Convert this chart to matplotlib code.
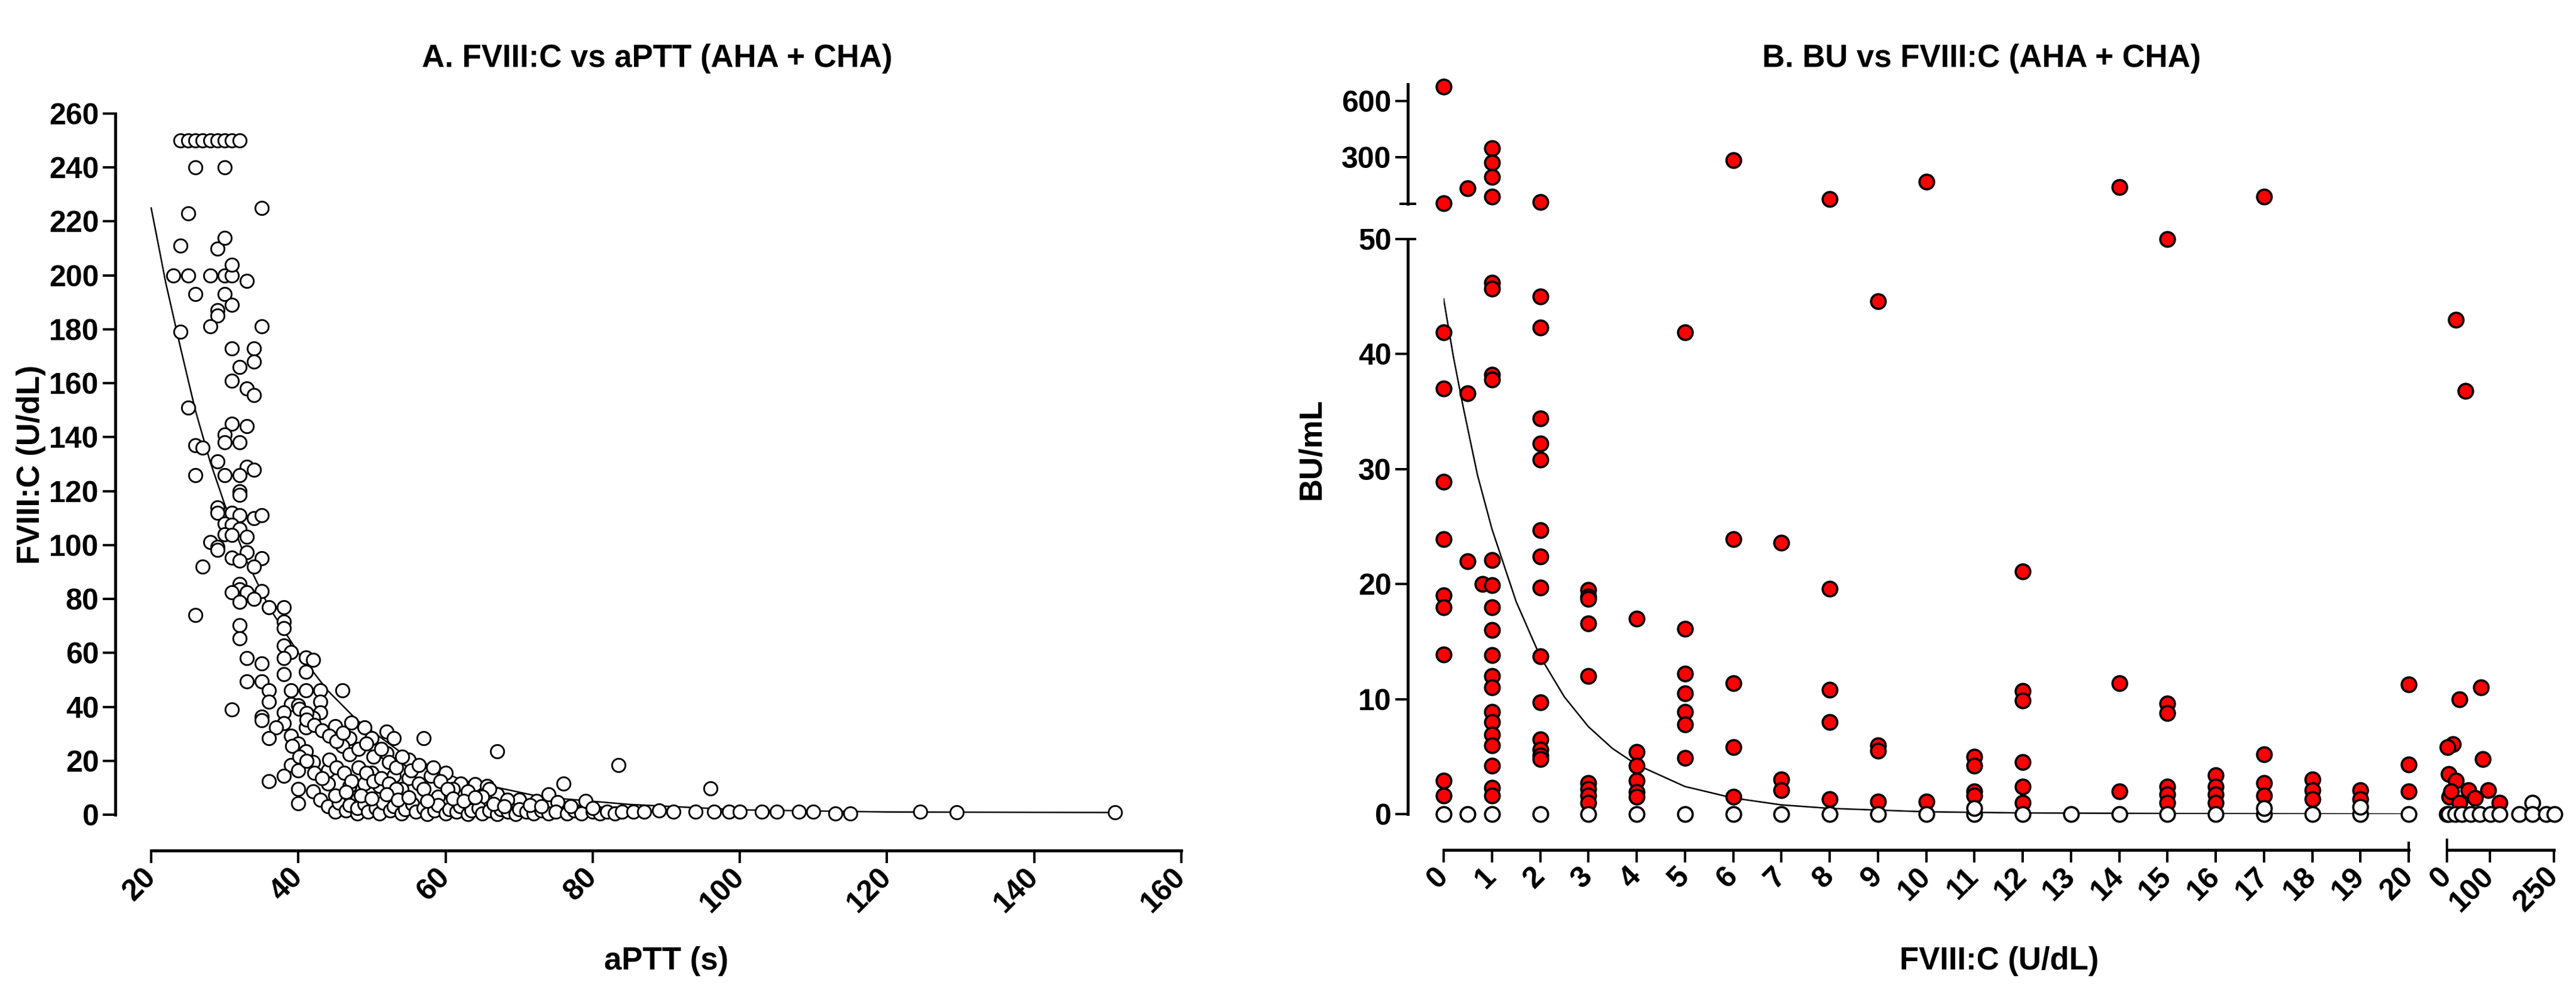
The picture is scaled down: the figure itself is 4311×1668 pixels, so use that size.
import matplotlib
matplotlib.use("Agg")
import matplotlib.pyplot as plt
from matplotlib.ticker import FixedLocator, NullFormatter

plt.rcParams['font.family'] = ['Liberation Sans', 'DejaVu Sans']
plt.rcParams['font.weight'] = 'bold'

# ---------------- Panel A : FVIII:C vs aPTT ----------------
# (aPTT s, FVIII:C U/dL)
pts_a_top = [(24, 250), (25, 250), (26, 250), (27, 250), (28, 250), (29, 250), (30, 250), (31, 250), (32, 250),
             (26, 240), (30, 240), (25, 223), (35, 225), (24, 211), (29, 210), (30, 214),
             (23, 200), (25, 200), (28, 200), (30, 200), (31, 200), (33, 198), (31, 204),
             (26, 193), (30, 193), (29, 187), (29, 185), (31, 189), (24, 179), (28, 181), (35, 181),
             (31, 173), (34, 173), (32, 166), (34, 168), (31, 161), (33, 158), (34, 155.5), (25, 151),
             (31, 145), (33, 144), (30, 141)]
pts_a_mid = [(32, 138), (30, 138), (26, 137), (27, 136), (29, 131), (33, 129), (34, 128), (26, 126), (30, 126),
             (32, 126), (32, 120), (32, 118.5), (29, 114), (29, 112), (31, 112), (32, 111), (34, 110), (35, 111),
             (30, 108), (31, 107.6), (32, 106), (30, 104), (31, 103.7), (33, 103), (28, 101), (29, 99.3),
             (29, 98.3), (33, 97.3), (31, 95.3), (32, 94.3), (35, 95), (34, 92), (27, 92), (32, 85.5), (32, 83.5),
             (31, 82.5), (33, 82.5), (35, 83), (32, 79), (34, 80), (26, 74), (36, 77), (38, 77), (38, 71.7),
             (38, 69.2), (32, 70.2), (32, 65.3), (38, 62.8), (39, 60.3), (33, 58), (35, 56), (41, 58.4),
             (42, 57.4), (38, 58), (41, 53), (38, 52), (33, 49.5), (35, 49.5), (36, 46), (39, 46), (41, 46),
             (43, 46), (46, 46), (36, 42), (39, 41), (43, 42), (40, 40.6)]
pts_a_low = [(31, 39), (43, 38), (38, 37.8), (35, 36.3), (35, 35), (38, 34), (42, 36), (45, 32.7), (37, 32.3),
             (41, 32.3), (49, 32.3), (52, 30.8), (53, 28.3), (57, 28.3), (50, 28.3), (47, 28.3), (36, 28.3),
             (39, 29.3), (46, 25.4), (40, 26.3), (41, 23.4), (47, 22.4), (52, 22.9), (55, 20.4), (39, 18.4),
             (40, 16.5), (42, 19.4), (44, 16.5), (50, 15.5), (53, 14.5), (55, 13.5), (58, 14.5), (60, 15.5),
             (64, 11.4), (67, 23.4), (36, 12.5), (38, 14.5), (44, 11.5), (47, 10.6), (49, 11.5), (51, 10.6),
             (76, 11.5), (83.5, 18.4), (40.1, 39.2), (41.1, 37.7), (41.1, 35.2), (42.2, 33.2), (43.2, 31.3),
             (44.2, 29.3), (45.2, 27.3), (46.1, 30.3), (47.2, 34.2), (48.2, 24.4), (49.2, 26.3), (50.2, 21.4),
             (51.3, 24.4), (52.3, 19.4), (53.3, 17.5), (54.1, 21.4), (55.3, 16.5), (56.4, 18.5), (58.3, 17.5),
             (59.3, 12.5), (39.2, 25.4), (40.1, 21.4), (41.1, 19.9), (42.2, 15.5), (43.2, 13.5), (44.2, 20.4),
             (45.2, 17.5), (46.2, 15.5), (47.2, 12.5), (48.2, 17.5), (49.2, 15.5), (50.2, 12.5), (51.3, 13.5),
             (52.3, 11.6), (56.4, 11.6), (62.1, 11.6), (65.6, 10.6)]
pts_a_floor = [(57, 9.6), (61, 9.6), (67, 7.6), (74, 7.6), (40, 9.6), (42, 8.6), (54, 9.6), (63, 8.6), (66, 9.6),
               (70, 5.6), (79, 5.2), (40, 4.2), (43, 5.6), (46, 6.6), (48, 5.6), (59, 6.6), (53.3, 9.6),
               (60.3, 9.6), (65, 6.6), (68.4, 5.6), (72.4, 5.2), (75.2, 4.7),
               (44, 3), (45, 1), (45.5, 4.5), (46.5, 1.5), (47, 3.5), (48, 0.5), (48, 2.5), (49, 4), (49.5, 1),
               (50.5, 2.5), (51, 0.5), (51.5, 4.5), (52.5, 1.5), (53, 3), (54, 0.5), (54.5, 2), (55.5, 4),
               (56, 1), (57, 2.5), (57.5, 0.3), (58.5, 1.5), (59, 3.5), (60, 0.5), (60.5, 2), (61.5, 1), (62, 3),
               (63, 0.3), (63.5, 1.5), (64.5, 2.5), (65, 0.5), (66, 1.5), (67, 0.3), (67.5, 2), (68.5, 1),
               (69.5, 0.3), (70, 2), (71, 1), (72, 0.5), (73, 1.5), (74, 0.5), (75, 1), (76.5, 0.5), (77.5, 1.5),
               (78.5, 0.5), (80, 1), (81, 0.5), (82, 1), (83, 0.5),
               (45, 7), (46.5, 8.5), (48.5, 7), (50, 6), (52, 7.5), (53.5, 5.5), (55, 6.5), (57.5, 5), (61, 6),
               (62.5, 5), (64, 6.5), (66.5, 4), (68, 3), (71.5, 3.5), (73, 3), (77, 3), (80, 2.5)]
pts_a_tail = [(84, 1), (85.5, 1), (87, 1), (89, 1.5), (91, 1), (94, 1), (96, 9.8), (96.5, 1), (98.5, 1),
              (100, 1), (103, 1), (105, 1), (108, 1), (110, 1), (113, 0.5), (115, 0.5), (124.5, 1),
              (129.5, 0.8), (151, 0.8)]

# fitted decay curve, read as points along the line
fit_a_x = [20, 22, 24, 26, 28, 30, 33, 36, 40, 44, 48, 54, 62, 73, 85, 100, 120, 151]
fit_a_y = [225, 197, 173, 150, 131, 115, 94, 77, 60, 46, 35, 23, 13, 6.6, 3.8, 1.8, 1.0, 0.8]

# ---------------- Panel B : BU vs FVIII:C ----------------
# red = inhibitor positive (FVIII:C U/dL, BU/mL), values > 50 go on the upper segment
red_b = [(0, 677), (0, 54), (0, 41.9), (0, 37.0), (0, 28.9), (0, 23.9), (0, 19.0), (0, 18.0), (0, 13.9),
         (0, 2.9), (0, 1.6),
         (0.5, 134), (0.5, 36.6), (0.5, 22.0), (0.8, 20.0),
         (1, 348), (1, 271), (1, 195), (1, 89), (1, 46.2), (1, 45.7), (1, 38.2), (1, 37.8), (1, 22.1),
         (1, 19.9), (1, 18.0), (1, 16.0), (1, 13.8), (1, 12.0), (1, 11.0), (1, 8.9), (1, 8.0), (1, 6.9),
         (1, 6.0), (1, 4.2), (1, 2.3), (1, 1.6),
         (2, 60), (2, 45.0), (2, 42.3), (2, 34.4), (2, 32.2), (2, 30.8), (2, 24.7), (2, 22.4), (2, 19.7),
         (2, 13.7), (2, 9.7), (2, 6.5), (2, 5.6), (2, 5.1), (2, 4.8),
         (3, 19.5), (3, 18.9), (3, 18.7), (3, 16.6), (3, 12.0), (3, 2.7), (3, 2.2), (3, 1.6), (3, 1.0),
         (4, 17.0), (4, 5.4), (4, 4.2), (4, 2.9), (4, 1.9), (4, 1.5),
         (5, 41.9), (5, 16.1), (5, 12.2), (5, 10.5), (5, 8.9), (5, 7.8), (5, 4.9),
         (6, 284), (6, 23.9), (6, 11.4), (6, 5.8), (6, 1.5),
         (7, 23.6), (7, 3.0), (7, 2.1),
         (8, 77), (8, 19.6), (8, 10.8), (8, 8.0), (8, 1.3),
         (9, 44.6), (9, 6.0), (9, 5.5), (9, 1.1),
         (10, 170), (10, 1.1),
         (11, 5.0), (11, 4.2), (11, 2.0), (11, 1.6),
         (12, 21.1), (12, 10.7), (12, 9.9), (12, 4.5), (12, 2.4), (12, 1.0),
         (14, 140), (14, 11.4), (14, 2.0),
         (15, 50), (15, 9.6), (15, 8.8), (15, 2.4), (15, 1.7), (15, 1.0),
         (16, 3.4), (16, 2.4), (16, 1.7), (16, 1.0),
         (17, 90), (17, 5.2), (17, 2.7), (17, 1.6),
         (18, 3.0), (18, 2.1), (18, 1.3),
         (19, 2.1), (19, 1.3),
         (20, 11.3), (20, 4.3), (20, 2.0)]
# red points on the right-hand (0-250) segment
red_b_far = [(21, 43), (43, 36.8), (29, 10.0), (80, 11.0), (14, 6.1), (2, 5.8), (84, 4.8), (4, 3.5), (21, 2.9),
             (50, 2.1), (96, 2.1), (123, 1.0), (6, 1.5), (66, 1.4), (10, 2.0), (30, 1.0)]
# white = BU 0
white_b = [(0, 0), (0.5, 0), (1, 0), (2, 0), (3, 0), (4, 0), (5, 0), (6, 0), (7, 0), (8, 0), (9, 0), (10, 0),
           (11, 0), (11, 0.5), (12, 0), (13, 0), (14, 0), (15, 0), (16, 0), (17, 0), (17, 0.5), (18, 0), (19, 0),
           (19, 0.6), (20, 0)]
white_b_far = [(0, 0), (4, 0), (20, 0), (35, 0), (56, 0), (77, 0), (102, 0), (123, 0), (169, 0), (200, 1.0),
               (200, 0), (232, 0), (252, 0)]

fit_b_x = [0, 0.2, 0.4, 0.7, 1.0, 1.5, 2.0, 2.5, 3.0, 3.5, 4.0, 5.0, 6.0, 7.0, 8.0, 10, 12, 15, 20]
fit_b_y = [44.8, 39.8, 35.5, 29.5, 24.8, 18.5, 13.7, 10.2, 7.6, 5.7, 4.3, 2.4, 1.4, 0.8, 0.5, 0.2, 0.1, 0.05, 0.0]

# ---------------- figure ----------------
W, H, DPI = 4311, 1668, 100
fig = plt.figure(figsize=(W / DPI, H / DPI), dpi=DPI, facecolor='white')


def px_box(x0, x1, ytop, ybot):
    return [x0 / W, 1 - ybot / H, (x1 - x0) / W, (ybot - ytop) / H]


SPINE_LW, TICK_W, TICK_L = 3.6, 2.9, 15
TICK_FS, LABEL_FS, TITLE_FS = 36, 38, 38
OFF = 43  # axis offset in points (about 60 px)


def style(ax, left=True, bottom=True):
    for s in ['top', 'right']:
        ax.spines[s].set_visible(False)
    ax.spines['left'].set_visible(left)
    ax.spines['bottom'].set_visible(bottom)
    for s in ['left', 'bottom']:
        ax.spines[s].set_linewidth(SPINE_LW)
        ax.spines[s].set_position(('outward', OFF))
    ax.tick_params(which='both', width=TICK_W, labelsize=TICK_FS)
    ax.tick_params(which='major', length=TICK_L, pad=5)
    ax.patch.set_visible(False)


def rotate_xlabels(ax):
    for lab in ax.get_xticklabels():
        lab.set_rotation(45)
        lab.set_ha('right')
        lab.set_va('center')
        lab.set_rotation_mode('anchor')


def scatter(ax, pts, face, size, lw, z):
    xs, ys = zip(*pts)
    ax.scatter(xs, ys, s=size, facecolor=face, edgecolor='black', linewidth=lw, zorder=z, clip_on=False)


# --- panel A ---
axA = fig.add_axes(px_box(253, 1977, 190, 1363))
style(axA)
axA.set_xlim(20, 160)
axA.set_ylim(0, 260)
axA.spines['left'].set_bounds(0, 260)
axA.spines['bottom'].set_bounds(20, 160)
axA.set_xticks(range(20, 161, 20))
axA.set_yticks(range(0, 261, 20))
axA.tick_params(axis='x', pad=12)
rotate_xlabels(axA)
axA.plot(fit_a_x, fit_a_y, color='black', lw=1.8, zorder=2, clip_on=False)
for grp in [pts_a_top, pts_a_mid, pts_a_low, pts_a_floor, pts_a_tail]:
    scatter(axA, grp, 'white', 257, 2.1, 3)

fig.text(1100 / W, 1 - 98 / H, 'A. FVIII:C vs aPTT (AHA + CHA)', ha='center', va='center', fontsize=TITLE_FS)
fig.text(1115 / W, 1 - 1608 / H, 'aPTT (s)', ha='center', va='center', fontsize=LABEL_FS)
fig.text(52 / W, 1 - 777 / H, 'FVIII:C (U/dL)', ha='center', va='center', rotation=90, fontsize=LABEL_FS)

# --- panel B ---
B_X0, B_X1 = 2416, 4031
axB = fig.add_axes(px_box(B_X0, B_X1, 400, 1362))        # lower y segment, x 0-20
axBh = fig.add_axes(px_box(B_X0, B_X1, 141, 341))        # upper y segment
axBf = fig.add_axes(px_box(4095, 4274, 400, 1362))       # right x segment, 0-250

style(axB)
axB.set_xlim(0, 20)
axB.set_ylim(0, 50)
axB.spines['left'].set_bounds(0, 50)
axB.spines['bottom'].set_bounds(0, 20)
axB.set_xticks(range(0, 21))
axB.set_yticks(range(0, 51, 10))
axB.xaxis.remove_overlapping_locs = False
axB.yaxis.remove_overlapping_locs = False
axB.xaxis.set_minor_locator(FixedLocator([20]))
axB.yaxis.set_minor_locator(FixedLocator([50]))
axB.xaxis.set_minor_formatter(NullFormatter())
axB.yaxis.set_minor_formatter(NullFormatter())
axB.tick_params(which='minor', direction='inout', length=20)
axB.tick_params(axis='x', pad=12)
rotate_xlabels(axB)

style(axBh, bottom=False)
axBh.set_xlim(0, 20)
axBh.set_ylim(50, 690)
axBh.spines['left'].set_bounds(50, 690)
axBh.set_xticks([])
axBh.set_yticks([300, 600])
axBh.yaxis.set_minor_locator(FixedLocator([50]))
axBh.yaxis.set_minor_formatter(NullFormatter())
axBh.tick_params(which='minor', direction='inout', length=20)

style(axBf, left=False)
axBf.set_xlim(0, 250)
axBf.set_ylim(0, 50)
axBf.spines['bottom'].set_bounds(0, 250)
axBf.set_yticks([])
axBf.set_xticks([0, 100, 250])
axBf.xaxis.remove_overlapping_locs = False
axBf.xaxis.set_minor_locator(FixedLocator([0]))
axBf.xaxis.set_minor_formatter(NullFormatter())
axBf.tick_params(which='minor', direction='inout', length=28)
axBf.tick_params(axis='x', pad=12)
rotate_xlabels(axBf)

axB.plot(fit_b_x, fit_b_y, color='black', lw=1.8, zorder=2)
scatter(axB, [p for p in red_b if p[1] <= 50], 'red', 310, 2.7, 3)
scatter(axBh, [p for p in red_b if p[1] > 50], 'red', 310, 2.7, 3)
scatter(axB, white_b, 'white', 310, 2.7, 4)
scatter(axBf, red_b_far, 'red', 310, 2.7, 3)
scatter(axBf, white_b_far, 'white', 310, 2.7, 4)

fig.text(3316 / W, 1 - 98 / H, 'B. BU vs FVIII:C (AHA + CHA)', ha='center', va='center', fontsize=TITLE_FS)
fig.text(3346 / W, 1 - 1608 / H, 'FVIII:C (U/dL)', ha='center', va='center', fontsize=LABEL_FS)
fig.text(2195 / W, 1 - 751 / H, 'BU/mL', ha='center', va='center', rotation=90, fontsize=LABEL_FS)

fig.savefig('out.png', dpi=DPI, facecolor='white')
